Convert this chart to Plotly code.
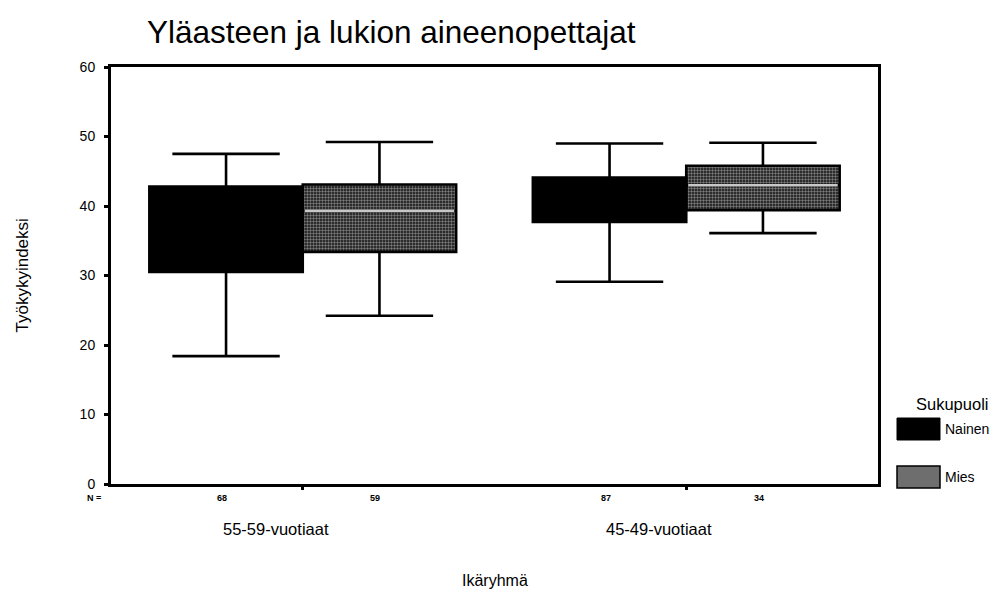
import plotly.graph_objects as go

# ---- data ----
categories = ["55-59-vuotiaat", "45-49-vuotiaat"]
groups = ["Nainen", "Mies"]
n_nainen = [68, 87]
n_mies = [59, 34]

nainen_upper = [47.5, 49.0]
nainen_q3 = [42.8, 44.1]
nainen_median = [37.0, 41.0]
nainen_q1 = [30.5, 37.7]
nainen_lower = [18.4, 29.1]

mies_upper = [49.2, 49.1]
mies_q3 = [43.1, 45.8]
mies_median = [39.3, 43.0]
mies_q1 = [33.4, 39.4]
mies_lower = [24.2, 36.1]

yticks = [0, 10, 20, 30, 40, 50, 60]

FONT = "Liberation Sans, Arial, sans-serif"
BOXW = 0.4
idx = list(range(len(categories)))
x_nainen = [i - BOXW / 2 for i in idx]
x_mies = [i + BOXW / 2 for i in idx]

# page body has an 8px margin -> compensate
OFF = 8
PL, PT, PW, PH = 111 - OFF, 67 - OFF, 767, 417
W, H = 1004 - OFF, 595 - OFF


def px_x(px):
    return (px - OFF - PL) / PW


def px_y(py):
    return (PT + PH - (py - OFF)) / PH


fig = go.Figure()

# stippled fill for the "Mies" boxes (pattern bar under the box outline)
fig.add_trace(go.Bar(
    x=x_mies,
    y=[q3 - q1 for q3, q1 in zip(mies_q3, mies_q1)],
    base=mies_q1,
    width=BOXW,
    marker=dict(color="black",
                pattern=dict(shape=".", fgcolor="#e8e8e8", bgcolor="#111111",
                             size=3, solidity=0.5),
                line=dict(color="black", width=0)),
    showlegend=False, hoverinfo="skip",
))

fig.add_trace(go.Box(
    name=groups[0], x=x_nainen,
    q1=nainen_q1, median=nainen_median, q3=nainen_q3,
    lowerfence=nainen_lower, upperfence=nainen_upper,
    width=BOXW,
    fillcolor="black", line=dict(color="black", width=2.6),
    whiskerwidth=0.7, showlegend=False,
))
fig.add_trace(go.Box(
    name=groups[1], x=x_mies,
    q1=mies_q1, median=mies_median, q3=mies_q3,
    lowerfence=mies_lower, upperfence=mies_upper,
    width=BOXW,
    fillcolor="rgba(0,0,0,0)", line=dict(color="black", width=2.6),
    whiskerwidth=0.7, showlegend=False,
))

# light median line inside the stippled boxes
for i in idx:
    fig.add_trace(go.Scatter(
        x=[x_mies[i] - BOXW / 2 + 0.005, x_mies[i] + BOXW / 2 - 0.005],
        y=[mies_median[i], mies_median[i]],
        mode="lines", line=dict(color="#c8c8c8", width=2.5),
        showlegend=False, hoverinfo="skip",
    ))

annotations = []
NY = px_y(498)
annotations.append(dict(text="<b>N =</b>", xref="paper", yref="paper",
                        x=px_x(94), y=NY, xanchor="center", yanchor="middle",
                        showarrow=False,
                        font=dict(size=9, family=FONT, color="black")))
for i, cat in enumerate(categories):
    annotations.append(dict(text=f"<b>{n_nainen[i]}</b>", xref="x", yref="paper",
                            x=x_nainen[i], y=NY, xshift=-4, xanchor="center",
                            yanchor="middle", showarrow=False,
                            font=dict(size=9, family=FONT, color="black")))
    annotations.append(dict(text=f"<b>{n_mies[i]}</b>", xref="x", yref="paper",
                            x=x_mies[i], y=NY, xshift=-4, xanchor="center",
                            yanchor="middle", showarrow=False,
                            font=dict(size=9, family=FONT, color="black")))
    annotations.append(dict(text=cat, xref="x", yref="paper",
                            x=i, y=px_y(529), xshift=-27, xanchor="center",
                            yanchor="middle", showarrow=False,
                            font=dict(size=16.5, family=FONT, color="black")))

annotations.append(dict(text="Ikäryhmä", xref="paper", yref="paper",
                        x=0.5, y=px_y(580), xanchor="center", yanchor="middle",
                        showarrow=False,
                        font=dict(size=16, family=FONT, color="black")))
annotations.append(dict(text="Työkykyindeksi", xref="paper", yref="paper",
                        x=px_x(22), y=0.5, textangle=-90, xanchor="center",
                        yanchor="middle", showarrow=False,
                        font=dict(size=17, family=FONT, color="black")))

# legend
annotations.append(dict(text="Sukupuoli", xref="paper", yref="paper",
                        x=px_x(914), y=px_y(404), xanchor="left", yanchor="middle",
                        showarrow=False, font=dict(size=16.5, family=FONT, color="black")))
annotations.append(dict(text=groups[0], xref="paper", yref="paper",
                        x=px_x(943), y=px_y(429), xanchor="left", yanchor="middle",
                        showarrow=False, font=dict(size=14, family=FONT, color="black")))
annotations.append(dict(text=groups[1], xref="paper", yref="paper",
                        x=px_x(943), y=px_y(477), xanchor="left", yanchor="middle",
                        showarrow=False, font=dict(size=14, family=FONT, color="black")))

shapes = [
    dict(type="rect", xref="paper", yref="paper",
         x0=px_x(897), x1=px_x(940), y0=px_y(440), y1=px_y(418),
         fillcolor="black", line=dict(color="black", width=1)),
    dict(type="rect", xref="paper", yref="paper",
         x0=px_x(897), x1=px_x(940), y0=px_y(488), y1=px_y(466),
         fillcolor="#6e6e6e", line=dict(color="black", width=1.5)),
]

fig.update_layout(
    width=W, height=H,
    margin=dict(l=PL, r=W - PL - PW, t=PT, b=H - PT - PH, pad=0),
    paper_bgcolor="white", plot_bgcolor="white",
    barmode="overlay",
    title=dict(text="Yläasteen ja lukion aineenopettajat",
               x=(147 - OFF) / W, xanchor="left", xref="container",
               y=1 - (32 - OFF) / H, yanchor="middle", yref="container",
               font=dict(size=31.5, family=FONT, color="black")),
    xaxis=dict(range=[-0.5, 1.5], tickvals=idx, ticktext=["", ""],
               showline=True, linecolor="black", linewidth=3, mirror=True,
               ticks="outside", ticklen=3, tickwidth=3, tickcolor="black",
               showticklabels=False, showgrid=False, zeroline=False),
    yaxis=dict(range=[0, 60], tickvals=yticks,
               showline=True, linecolor="black", linewidth=3, mirror=True,
               ticks="outside", ticklen=4, tickwidth=3, tickcolor="black",
               ticklabelstandoff=6,
               tickfont=dict(size=14, family=FONT, color="black"),
               showgrid=False, zeroline=False),
    annotations=annotations,
    shapes=shapes,
    showlegend=False,
)

fig.write_html("out.html")
